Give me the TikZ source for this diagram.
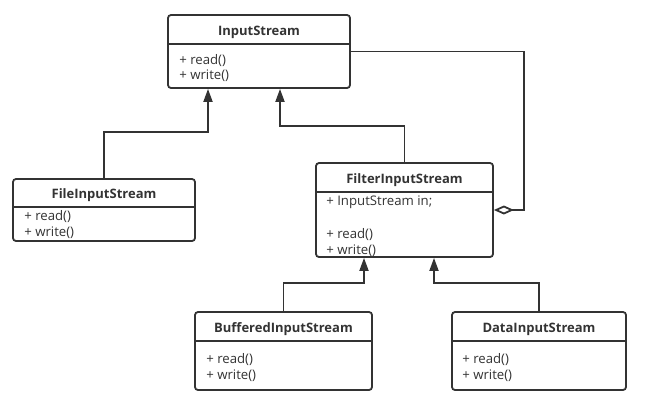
\documentclass[tikz,border=0pt]{standalone}
\usepackage{fontspec}
\setmainfont{Open Sans}
\usepackage{tikz}
\usetikzlibrary{arrows.meta,positioning}

\definecolor{umlline}{HTML}{333333}

\tikzset{
    classbox/.style={draw=umlline, line width=1.8pt, rounded corners=3pt, inner sep=0pt},
    classname/.style={font=\fontsize{13}{15}\selectfont\bfseries, text=umlline, anchor=base, inner sep=0pt},
    member/.style={font=\fontsize{13.2}{15}\selectfont, text=umlline, anchor=base west, inner sep=0pt},
    extends/.style={draw=umlline, line width=1.8pt, -{Triangle[width=9pt,length=13pt]}},
    holds/.style={draw=umlline, line width=1.8pt, {Diamond[open,width=9pt,length=20pt]}-}
}

\begin{document}
\begin{tikzpicture}[x=1pt, y=-1pt]
            \useasboundingbox (0,0) rectangle (647,408);

            % base class
            \node[classbox, minimum width=182pt, minimum height=73pt] (input) at (259,51.5) {};
            \draw[umlline, line width=1.8pt] ([yshift=-30pt]input.north west) -- ([yshift=-30pt]input.north east);
            \node[classname] (inputname) at ([yshift=-21.5pt]input.north) {InputStream};
            \node[member] (inputread) at ([xshift=12pt, yshift=-50.5pt]input.north west) {+ read()};
            \node[member] (inputwrite) at ([xshift=12pt, yshift=-65.5pt]input.north west) {+ write()};

            % file stream
            \node[classbox, minimum width=182pt, minimum height=62pt] (file) at (104,210) {};
            \draw[umlline, line width=1.8pt] ([yshift=-29pt]file.north west) -- ([yshift=-29pt]file.north east);
            \node[classname] (filename) at ([yshift=-20.5pt]file.north) {FileInputStream};
            \node[member] (fileread) at ([xshift=12pt, yshift=-42.5pt]file.north west) {+ read()};
            \node[member] (filewrite) at ([xshift=12pt, yshift=-58pt]file.north west) {+ write()};

            % filter stream
            \node[classbox, minimum width=177pt, minimum height=94pt] (filter) at (404.5,210) {};
            \draw[umlline, line width=1.8pt] ([yshift=-30pt]filter.north west) -- ([yshift=-30pt]filter.north east);
            \node[classname] (filtername) at ([yshift=-21pt]filter.north) {FilterInputStream};
            \node[member] (filterin) at ([xshift=11pt, yshift=-43.5pt]filter.north west) {+ InputStream in;};
            \node[member] (filterread) at ([xshift=11pt, yshift=-76.5pt]filter.north west) {+ read()};
            \node[member] (filterwrite) at ([xshift=11pt, yshift=-92pt]filter.north west) {+ write()};

            % buffered stream
            \node[classbox, minimum width=177pt, minimum height=78pt] (buffered) at (283.5,351) {};
            \draw[umlline, line width=1.8pt] ([yshift=-30pt]buffered.north west) -- ([yshift=-30pt]buffered.north east);
            \node[classname] (bufferedname) at ([yshift=-21pt]buffered.north) {BufferedInputStream};
            \node[member] (bufferedread) at ([xshift=12pt, yshift=-52.5pt]buffered.north west) {+ read()};
            \node[member] (bufferedwrite) at ([xshift=12pt, yshift=-68pt]buffered.north west) {+ write()};

            % data stream
            \node[classbox, minimum width=174pt, minimum height=78pt] (data) at (539,351) {};
            \draw[umlline, line width=1.8pt] ([yshift=-30pt]data.north west) -- ([yshift=-30pt]data.north east);
            \node[classname] (dataname) at ([yshift=-21pt]data.north) {DataInputStream};
            \node[member] (dataread) at ([xshift=11pt, yshift=-52.5pt]data.north west) {+ read()};
            \node[member] (datawrite) at ([xshift=11pt, yshift=-68pt]data.north west) {+ write()};

            % inheritance
            \draw[extends] (file.north) -- ++(0,-46) -| ([xshift=-51pt]input.south);
            \draw[extends] (filter.north) -- ++(0,-36) -| ([xshift=21pt]input.south);
            \draw[extends] (buffered.north) -- ++(0,-28) -| ([xshift=-40.5pt]filter.south);
            \draw[extends] (data.north) -- ++(0,-28) -| ([xshift=29.5pt]filter.south);

            % aggregation
            \draw[holds] (filter.east) -- ++(30,0) |- (input.east);
        \end{tikzpicture}
\end{document}
